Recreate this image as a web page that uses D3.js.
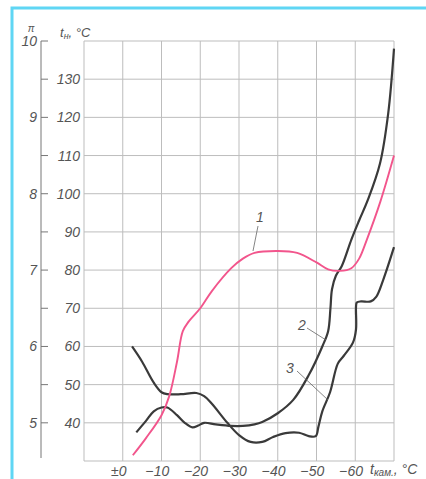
<!DOCTYPE html>
<html>
<head>
<meta charset="utf-8">
<script src="https://cdn.jsdelivr.net/npm/d3@7"></script>
<style>
  html, body { margin: 0; background: #fff; overflow: hidden; }
  svg { display: block; }
  text { font-family: "Liberation Sans", Arial, sans-serif; font-style: italic; fill: #555; }
</style>
</head>
<body>
<div id="chart"></div>
<script>
// curve 1 (pink), 2 and 3 (black): [t_kam, t_n]
const curve1 = [[-2.6,31.5],[-6,36],[-10,42],[-12,47],[-14,56],[-15.5,64],[-17,66.5],[-20,70],[-23,74.5],
  [-28,80.5],[-31,83],[-34,84.5],[-40,85],[-45,84.5],[-50,82],[-53,80.2],[-56,79.8],[-59,80.5],[-61,83],
  [-63,88],[-66.5,98],[-70,110]];
const curve2 = [[-3.5,37.5],[-6,40.5],[-8,43],[-10,44],[-11.5,44],[-14,42],[-16,40],[-18,38.8],[-19.5,39.3],
  [-21,40],[-24,39.6],[-28,39.2],[-31,39.2],[-34,39.6],[-36,40.2],[-40,42.5],[-44,46],[-48,52.5],[-51.5,60],
  [-53,64],[-53.6,70],[-54,75],[-55,78.5],[-56.5,81],[-59,88],[-61,93],[-63.3,98.5],[-66.4,108],[-68.5,121],[-70,138]];
const curve3 = [[-2.4,60],[-5,56],[-8,50.5],[-10,48],[-11.5,47.5],[-15,47.5],[-19,47.8],[-21,47],[-23,45],
  [-27,40],[-30,36.8],[-33,35],[-36,35],[-38.8,36.3],[-42,37.3],[-45.5,37.4],[-48,36.5],[-49.8,36.5],
  [-50.5,39],[-51.5,43],[-53.5,48],[-55.5,55.5],[-57,57.5],[-59.4,61],[-60.2,64.5],[-60.2,70.4],[-60.4,71.5],
  [-61.5,71.8],[-64,71.8],[-65.4,73],[-67.2,77.4],[-70,86]];

const xTicks = [0, -10, -20, -30, -40, -50, -60];
const xGrid = [10, 0, -10, -20, -30, -40, -50, -60, -70];
const yTicks = [40, 50, 60, 70, 80, 90, 100, 110, 120, 130];
const yGrid = [30, 40, 50, 60, 70, 80, 90, 100, 110, 120, 130, 140];
const piLabels = [5, 6, 7, 8, 9, 10];
const piTicks = [5, 5.5, 6, 6.5, 7, 7.5, 8, 8.5, 9, 9.5, 10];

const width = 426, height = 479;

const svg = d3.select('#chart').append('svg')
  .attr('width', width).attr('height', height);

// blue frame
svg.append('path')
  .attr('d', 'M12,' + height + ' L12,8 L' + width + ',8')
  .attr('fill', 'none').attr('stroke', '#5fd6f4').attr('stroke-width', 3);

const x = d3.scaleLinear().domain([10, -70]).range([84, 394]);
const y = d3.scaleLinear().domain([30, 140]).range([461, 41]);
const pi = d3.scaleLinear().domain([4.5, 10]).range([461, 41]);

// grid
svg.append('g').selectAll('line').data(xGrid).join('line')
  .attr('x1', d => x(d)).attr('x2', d => x(d))
  .attr('y1', y(140)).attr('y2', y(30))
  .attr('stroke', '#bdbdbd').attr('stroke-width', 1);
svg.append('g').selectAll('line').data(yGrid).join('line')
  .attr('x1', x(10)).attr('x2', x(-70))
  .attr('y1', d => y(d)).attr('y2', d => y(d))
  .attr('stroke', '#bdbdbd').attr('stroke-width', 1);

// pi axis
svg.append('line').attr('x1', 41).attr('x2', 41)
  .attr('y1', pi(10)).attr('y2', 458)
  .attr('stroke', '#777').attr('stroke-width', 1);
svg.append('g').selectAll('line').data(piTicks).join('line')
  .attr('x1', 41).attr('x2', 48)
  .attr('y1', d => pi(d)).attr('y2', d => pi(d))
  .attr('stroke', '#777').attr('stroke-width', 1);
svg.append('g').selectAll('text').data(piLabels).join('text')
  .attr('x', 37).attr('y', d => pi(d) + 5)
  .attr('text-anchor', 'end').attr('font-size', 14)
  .text(d => d);
svg.append('text').attr('x', 31).attr('y', 32)
  .attr('text-anchor', 'middle').attr('font-size', 10).attr('font-style', 'normal')
  .text('π');

// y labels
svg.append('g').selectAll('text').data(yTicks).join('text')
  .attr('x', 80).attr('y', d => y(d) + 5)
  .attr('text-anchor', 'end').attr('font-size', 14)
  .text(d => d);
const yt = svg.append('text').attr('x', 60).attr('y', 37).attr('font-size', 13);
yt.append('tspan').text('t');
yt.append('tspan').attr('font-size', 9).attr('dy', 2).text('н');
yt.append('tspan').attr('dy', -2).text(', °C');

// x labels: digits centred on grid line, sign hangs left
const xl = svg.append('g').selectAll('g').data(xTicks).join('g');
xl.append('text')
  .attr('x', d => x(d)).attr('y', 476)
  .attr('text-anchor', 'middle').attr('font-size', 14)
  .text(d => Math.abs(d));
xl.append('text')
  .attr('x', d => x(d) - (d === 0 ? 4 : 8)).attr('y', 476)
  .attr('text-anchor', 'end').attr('font-size', 14)
  .text(d => d === 0 ? '±' : '−');
const xt = svg.append('text').attr('x', 370).attr('y', 474).attr('font-size', 14);
xt.append('tspan').text('t');
xt.append('tspan').attr('font-size', 10).attr('dy', 2).text('кам.');
xt.append('tspan').attr('dy', -2).text(', °C');

// curves
const line = d3.line().x(d => x(d[0])).y(d => y(d[1])).curve(d3.curveCatmullRom.alpha(0.5));
svg.append('path').datum(curve3).attr('d', line)
  .attr('fill', 'none').attr('stroke', '#3a3a3a').attr('stroke-width', 2.2);
svg.append('path').datum(curve2).attr('d', line)
  .attr('fill', 'none').attr('stroke', '#3a3a3a').attr('stroke-width', 2.2);
svg.append('path').datum(curve1).attr('d', line)
  .attr('fill', 'none').attr('stroke', '#f2558c').attr('stroke-width', 1.9);

// curve labels with leaders
const labels = [
  {t: '1', tx: 260, ty: 222, x1: 258, y1: 226, x2: 253, y2: 251},
  {t: '2', tx: 302, ty: 330, x1: 307, y1: 328, x2: 326, y2: 340},
  {t: '3', tx: 290, ty: 373, x1: 297, y1: 371, x2: 328, y2: 400}
];
svg.append('g').selectAll('line').data(labels).join('line')
  .attr('x1', d => d.x1).attr('y1', d => d.y1).attr('x2', d => d.x2).attr('y2', d => d.y2)
  .attr('stroke', '#666').attr('stroke-width', 0.8);
svg.append('g').selectAll('text').data(labels).join('text')
  .attr('x', d => d.tx).attr('y', d => d.ty)
  .attr('text-anchor', 'middle').attr('font-size', 14)
  .text(d => d.t);
</script>
</body>
</html>
